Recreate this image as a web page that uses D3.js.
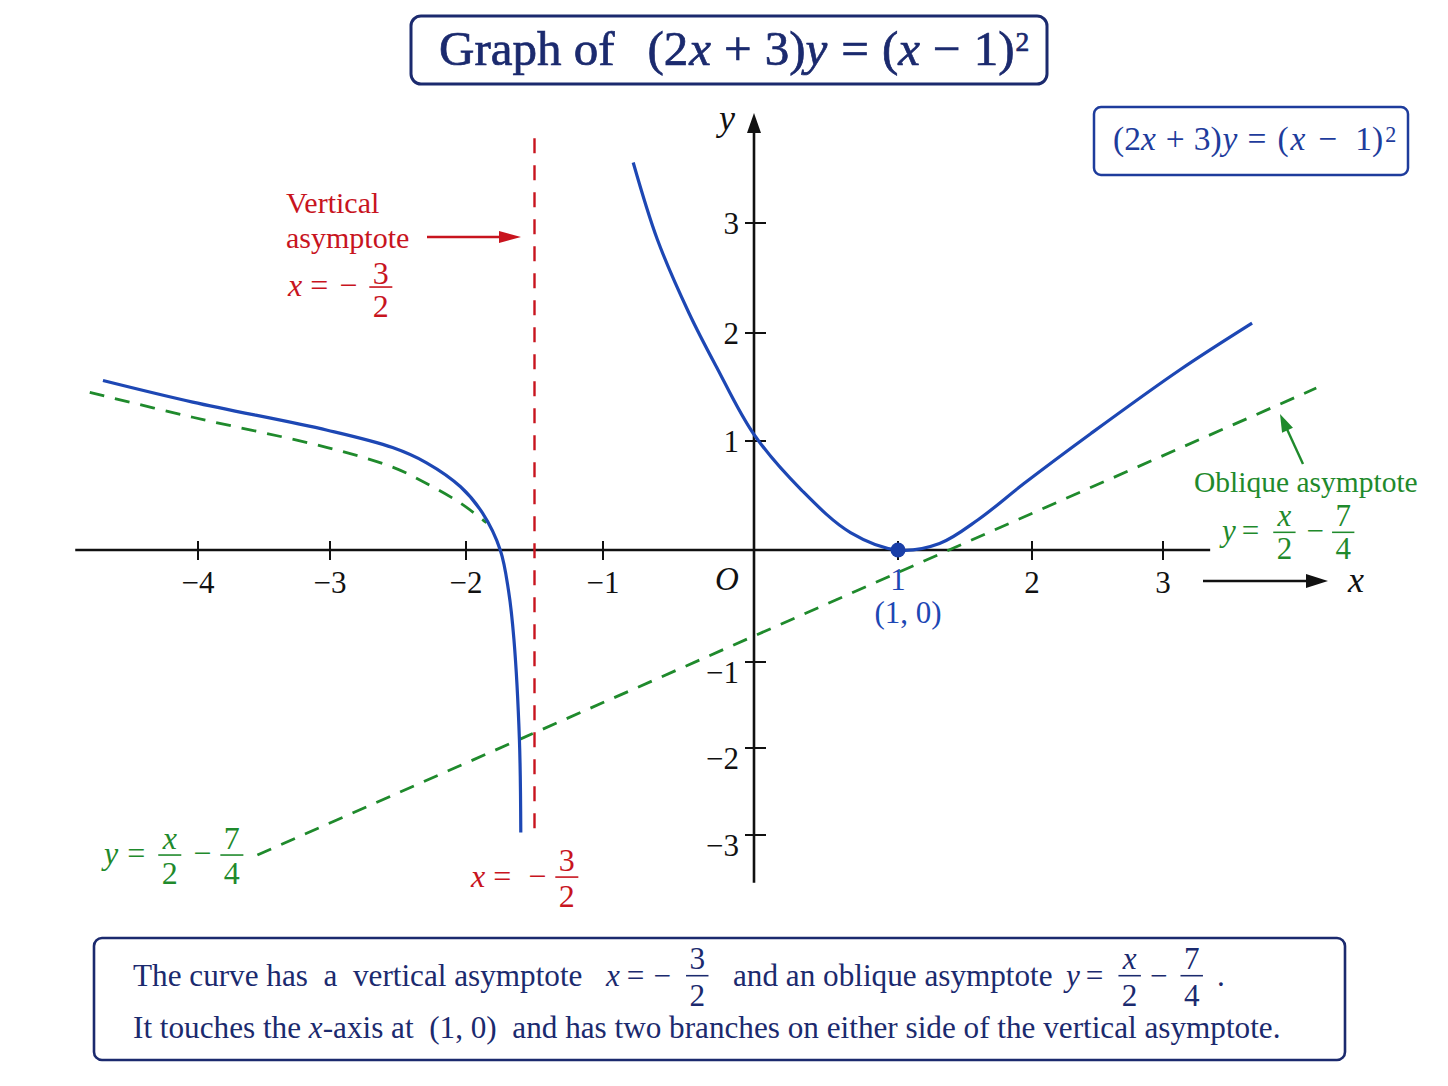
<!DOCTYPE html>
<html><head><meta charset="utf-8">
<script src="https://cdn.jsdelivr.net/npm/d3@7"></script>
<style>body{margin:0;background:#fff}svg text{white-space:pre}</style>
</head><body>
<svg id="c" width="1448" height="1086"></svg>
<script>
// ---------- data ----------
const xTickValues = [-4, -3, -2, -1, 1, 2, 3];
const xTickLabels = ["−4", "−3", "−2", "−1", "1", "2", "3"];
const yTickValues = [3, 2, 1, -1, -2, -3];
const yTickLabels = ["3", "2", "1", "−1", "−2", "−3"];

const rightBranchX = [-0.80, -0.64, -0.43, -0.25, 0, 0.33, 0.67, 1, 1.31, 1.60, 1.94, 2.45, 3.13, 3.68];
const rightBranchY = [3.55, 2.85, 2.18, 1.69, 1.06, 0.55, 0.16, 0, 0.06, 0.28, 0.61, 1.07, 1.66, 2.09];

const leftBranchX = [-4.72, -4.04, -3.02, -2.54, -2.29, -2.04, -1.88, -1.75, -1.69, -1.65, -1.61, -1.60];
const leftBranchY = [1.56, 1.36, 1.10, 0.94, 0.80, 0.58, 0.34, 0, -0.36, -0.80, -1.91, -2.97];

const leftGuideX = [-4.82, -4.04, -3.02, -2.54, -2.29, -2.04, -1.85];
const leftGuideY = [1.45, 1.22, 0.94, 0.76, 0.61, 0.43, 0.25];

const obliqueX = [-3.55, 4.17];
const obliqueY = [-3.23, 1.49];

const verticalAsymptoteX = -1.5;
const verticalAsymptoteY = [3.77, -2.98];

const touchPoint = [1, 0];
const xAxisExtent = [-4.93, 3.36];
const yAxisExtent = [-3.55, 4.0];

// ---------- setup ----------
const NAVY = "#1b2a6e", BLUE = "#1d47b4", RED = "#c8141e", GREEN = "#1f8a2c";
const FONT = "'Liberation Serif','Times New Roman',serif";
const svg = d3.select("#c").attr("font-family", FONT);

const x = d3.scaleLinear().domain([-4, -3, -2, -1, 0, 1, 2, 3]).range([198, 330, 466, 603, 754, 898, 1032, 1163]);
const y = d3.scaleLinear().domain([-3, -2, -1, 0, 1, 2, 3]).range([835, 748, 662, 550, 441, 333, 223]);

function arrow(g, x1, y1, x2, y2, color, w, len, half) {
  const a = Math.atan2(y2 - y1, x2 - x1);
  const bx = x2 - len * Math.cos(a), by = y2 - len * Math.sin(a);
  g.append("line").attr("x1", x1).attr("y1", y1).attr("x2", bx + Math.cos(a) * 2).attr("y2", by + Math.sin(a) * 2)
    .attr("stroke", color).attr("stroke-width", w);
  const px = -Math.sin(a) * half, py = Math.cos(a) * half;
  g.append("polygon").attr("points", `${x2},${y2} ${bx + px},${by + py} ${bx - px},${by - py}`).attr("fill", color);
}

// math row helper: parts flow left to right
function mrow(parent, x0, y0, parts, o) {
  let cx = x0;
  const g = parent.append("g").attr("font-size", o.size).attr("fill", o.fill);
  if (o.weight) g.attr("stroke", o.fill).attr("stroke-width", o.weight);
  parts.forEach(p => {
    cx += (p.gap || 0);
    if (p.frac) {
      const n = g.append("text").attr("text-anchor", "middle").attr("font-style", p.it ? "italic" : "normal").text(p.frac[0]);
      const d = g.append("text").attr("text-anchor", "middle").text(p.frac[1]);
      const w = Math.max(n.node().getComputedTextLength(), d.node().getComputedTextLength()) + o.size * 0.22;
      const mid = cx + w / 2;
      const bar = y0 - o.size * (o.barUp || 0.3);
      n.attr("x", mid).attr("y", bar - o.size * (o.numUp || 0.12));
      d.attr("x", mid).attr("y", bar + o.size * (o.denDown || 0.92));
      g.append("line").attr("x1", cx).attr("x2", cx + w).attr("y1", bar).attr("y2", bar)
        .attr("stroke", o.fill).attr("stroke-width", Math.max(1.2, o.size * 0.05));
      cx += w;
    } else {
      const t = g.append("text").attr("x", cx).attr("y", y0 - (p.sup ? o.size * (o.supUp || 0.27) : 0))
        .attr("font-size", p.sup ? o.size * (o.supSize || 0.58) : null)
        .attr("font-style", p.it ? "italic" : "normal").text(p.t);
      cx += t.node().getComputedTextLength();
    }
  });
  return cx;
}

// ---------- title box ----------
svg.append("rect").attr("x", 411).attr("y", 16).attr("width", 636).attr("height", 68).attr("rx", 10)
  .attr("fill", "#fff").attr("stroke", NAVY).attr("stroke-width", 3);
mrow(svg, 439, 65, [
  { t: "Graph of" }, { t: "(2", gap: 33 }, { t: "x", it: true, gap: 1 }, { t: "+", gap: 13 }, { t: "3)", gap: 13 },
  { t: "y", it: true, gap: 0 }, { t: "=", gap: 14 }, { t: "(", gap: 13 }, { t: "x", it: true, gap: 0 },
  { t: "−", gap: 13 }, { t: "1)", gap: 13 }, { t: "2", sup: true, gap: 1 }
], { size: 49, fill: NAVY, weight: 0.7, supSize: 0.56, supUp: 0.28 });

// ---------- top-right box ----------
svg.append("rect").attr("x", 1094).attr("y", 107).attr("width", 314).attr("height", 68).attr("rx", 7)
  .attr("fill", "#fff").attr("stroke", "#1e3c9c").attr("stroke-width", 2.5);
mrow(svg, 1113, 150, [
  { t: "(2" }, { t: "x", it: true }, { t: "+", gap: 10 }, { t: "3)", gap: 9 }, { t: "y", it: true, gap: 1 },
  { t: "=", gap: 10 }, { t: "(", gap: 11 }, { t: "x", it: true, gap: 2 }, { t: "−", gap: 13 }, { t: "1)", gap: 18 },
  { t: "2", sup: true, gap: 2 }
], { size: 33.5, fill: "#1e3c9c", supSize: 0.66, supUp: 0.25 });

// ---------- plot ----------
const plot = svg.append("g");
const line = d3.line().x(d => x(d[0])).y(d => y(d[1]));
const smooth = d3.line().x(d => x(d[0])).y(d => y(d[1])).curve(d3.curveCatmullRom.alpha(0.5));

// axes
plot.append("line").attr("x1", x(xAxisExtent[0])).attr("x2", x(xAxisExtent[1])).attr("y1", y(0)).attr("y2", y(0))
  .attr("stroke", "#111").attr("stroke-width", 2.6);
arrow(plot, x(0), y(yAxisExtent[0]), x(0), y(yAxisExtent[1]), "#111", 2.6, 20, 7);

plot.selectAll(".xt").data(xTickValues).join("line").attr("class", "xt")
  .attr("x1", d => x(d)).attr("x2", d => x(d)).attr("y1", y(0) - 9).attr("y2", y(0) + 10)
  .attr("stroke", "#111").attr("stroke-width", 2);
plot.selectAll(".yt").data(yTickValues).join("line").attr("class", "yt")
  .attr("y1", d => y(d)).attr("y2", d => y(d)).attr("x1", x(0) - 9).attr("x2", x(0) + 12)
  .attr("stroke", "#111").attr("stroke-width", 2);

plot.selectAll(".xl").data(xTickValues).join("text").attr("class", "xl")
  .attr("x", d => x(d)).attr("y", d => y(0) + (d === 1 ? 40 : 43)).attr("text-anchor", "middle").attr("font-size", 31)
  .attr("fill", d => d === 1 ? BLUE : "#111")
  .text((d, i) => xTickLabels[i]);
plot.selectAll(".yl").data(yTickValues).join("text").attr("class", "yl")
  .attr("x", x(0) - 15).attr("y", d => y(d) + (d < 0 ? 21 : 11)).attr("text-anchor", "end").attr("font-size", 31)
  .attr("fill", "#111").text((d, i) => yTickLabels[i]);

plot.append("text").attr("x", x(0) - 27).attr("y", y(0) + 40).attr("text-anchor", "middle")
  .attr("font-size", 33).attr("font-style", "italic").attr("fill", "#111").text("O");
plot.append("text").attr("x", 727).attr("y", 130).attr("text-anchor", "middle")
  .attr("font-size", 36).attr("font-style", "italic").attr("fill", "#111").text("y");
arrow(plot, 1203, 581, 1328, 581, "#111", 2.4, 22, 7);
plot.append("text").attr("x", 1356).attr("y", 592).attr("text-anchor", "middle")
  .attr("font-size", 36).attr("font-style", "italic").attr("fill", "#111").text("x");

// vertical asymptote
plot.append("line").attr("x1", x(verticalAsymptoteX)).attr("x2", x(verticalAsymptoteX))
  .attr("y1", y(verticalAsymptoteY[0])).attr("y2", y(verticalAsymptoteY[1]))
  .attr("stroke", RED).attr("stroke-width", 2.4).attr("stroke-dasharray", "15,12");

// oblique asymptote + left guide
plot.append("path").attr("d", line(d3.zip(obliqueX, obliqueY))).attr("fill", "none")
  .attr("stroke", GREEN).attr("stroke-width", 2.8).attr("stroke-dasharray", "15,11");
plot.append("path").attr("d", smooth(d3.zip(leftGuideX, leftGuideY))).attr("fill", "none")
  .attr("stroke", GREEN).attr("stroke-width", 2.8).attr("stroke-dasharray", "15,11");

// curve branches
plot.append("path").attr("d", smooth(d3.zip(leftBranchX, leftBranchY))).attr("fill", "none")
  .attr("stroke", BLUE).attr("stroke-width", 3.2);
plot.append("path").attr("d", smooth(d3.zip(rightBranchX, rightBranchY))).attr("fill", "none")
  .attr("stroke", BLUE).attr("stroke-width", 3.2);

plot.append("circle").attr("cx", x(touchPoint[0])).attr("cy", y(touchPoint[1])).attr("r", 7.5).attr("fill", "#1a3fa8");
plot.append("text").attr("x", x(touchPoint[0]) + 10).attr("y", 623).attr("text-anchor", "middle")
  .attr("font-size", 31).attr("fill", BLUE).text("(1, 0)");

// ---------- annotations ----------
const ann = svg.append("g");
ann.append("text").attr("x", 286).attr("y", 213).attr("font-size", 30).attr("fill", RED).text("Vertical");
ann.append("text").attr("x", 286).attr("y", 248).attr("font-size", 30).attr("fill", RED).text("asymptote");
arrow(ann, 427, 237, 521, 237, RED, 2.4, 22, 6);
mrow(ann, 288, 296, [{ t: "x", it: true }, { t: "=", gap: 8 }, { t: "−", gap: 11 }, { frac: ["3", "2"], gap: 12 }],
  { size: 32, fill: RED, barUp: 0.28, numUp: 0.08, denDown: 0.95 });
mrow(ann, 471, 887, [{ t: "x", it: true }, { t: "=", gap: 8 }, { t: "−", gap: 17 }, { frac: ["3", "2"], gap: 9 }],
  { size: 32, fill: RED, barUp: 0.31, numUp: 0.2, denDown: 0.95 });

mrow(ann, 104, 864, [{ t: "y", it: true }, { t: "=", gap: 9 }, { frac: ["x", "2"], it: true, gap: 13 }, { t: "−", gap: 12 }, { frac: ["7", "4"], gap: 9 }],
  { size: 32, fill: GREEN, barUp: 0.28, numUp: 0.2, denDown: 0.92 });

arrow(ann, 1303, 464, 1280, 414, GREEN, 2.4, 18, 6);
ann.append("text").attr("x", 1194).attr("y", 492).attr("font-size", 29.5).attr("fill", GREEN).text("Oblique asymptote");
mrow(ann, 1222, 541, [{ t: "y", it: true }, { t: "=", gap: 6 }, { frac: ["x", "2"], it: true, gap: 14 }, { t: "−", gap: 11 }, { frac: ["7", "4"], gap: 8 }],
  { size: 31, fill: GREEN, barUp: 0.28, numUp: 0.2, denDown: 0.85 });

// ---------- bottom box ----------
svg.append("rect").attr("x", 94).attr("y", 938).attr("width", 1251).attr("height", 122).attr("rx", 8)
  .attr("fill", "#fff").attr("stroke", NAVY).attr("stroke-width", 2.6);
const BS = 31.2;
const bt = svg.append("g").attr("fill", NAVY).attr("font-size", BS);
bt.append("text").attr("x", 133).attr("y", 986).text("The curve has  a  vertical asymptote");
mrow(bt, 606, 986, [{ t: "x", it: true }, { t: "=", gap: 7 }, { t: "−", gap: 9 }, { frac: ["3", "2"], gap: 15 }],
  { size: BS, fill: NAVY, barUp: 0.33, numUp: 0.2, denDown: 0.96 });
bt.append("text").attr("x", 733).attr("y", 986).text("and an oblique asymptote");
mrow(bt, 1066, 986, [{ t: "y", it: true }, { t: "=", gap: 6 }, { frac: ["x", "2"], it: true, gap: 15 }, { t: "−", gap: 9 }, { frac: ["7", "4"], gap: 13 }, { t: ".", gap: 14 }],
  { size: BS, fill: NAVY, barUp: 0.33, numUp: 0.2, denDown: 0.96 });
const l2 = bt.append("text").attr("x", 133).attr("y", 1038);
l2.append("tspan").text("It touches the ");
l2.append("tspan").attr("font-style", "italic").text("x");
l2.append("tspan").text("-axis at  (1, 0)  and has two branches on either side of the vertical asymptote.");
</script>
</body></html>
